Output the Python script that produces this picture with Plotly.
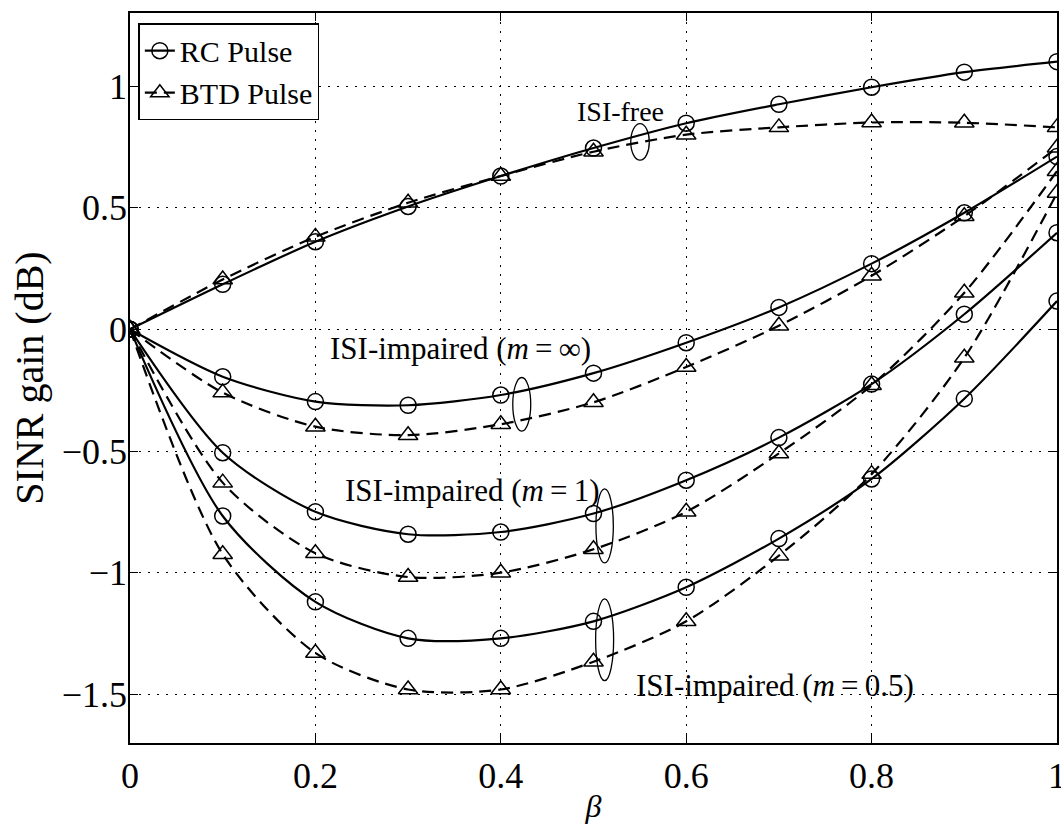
import plotly.graph_objects as go

# roll-off factor
beta = [0.0, 0.1, 0.2, 0.3, 0.4, 0.5, 0.6, 0.7, 0.8, 0.9, 1.0]

# SINR gain (dB), raised-cosine pulse
rc_free = [0.0, 0.185, 0.36, 0.505, 0.63, 0.745, 0.847, 0.925, 0.995, 1.057, 1.10]
rc_inf = [0.0, -0.195, -0.297, -0.312, -0.27, -0.18, -0.055, 0.09, 0.27, 0.479, 0.71]
rc_m1 = [0.0, -0.507, -0.75, -0.842, -0.833, -0.757, -0.62, -0.445, -0.225, 0.062, 0.397]
rc_m05 = [0.0, -0.767, -1.12, -1.27, -1.27, -1.20, -1.06, -0.86, -0.615, -0.285, 0.116]

# SINR gain (dB), BTD pulse
btd_free = [0.0, 0.205, 0.38, 0.52, 0.63, 0.73, 0.80, 0.83, 0.85, 0.849, 0.83]
btd_inf = [0.0, -0.26, -0.40, -0.435, -0.39, -0.30, -0.155, 0.015, 0.22, 0.465, 0.746]
btd_m1 = [0.0, -0.63, -0.92, -1.018, -1.0, -0.904, -0.75, -0.51, -0.23, 0.15, 0.65]
btd_m05 = [0.0, -0.924, -1.33, -1.48, -1.48, -1.366, -1.20, -0.93, -0.595, -0.117, 0.56]

x_ticks = [0, 0.2, 0.4, 0.6, 0.8, 1]
x_ticklabels = ["0", "0.2", "0.4", "0.6", "0.8", "1"]
y_ticks = [-1.5, -1, -0.5, 0, 0.5, 1]
y_ticklabels = ["\u22121.5", "\u22121", "\u22120.5", "0", "0.5", "1"]

FONT = "Liberation Serif, Times New Roman, serif"

fig = go.Figure()

rc_sets = [rc_free, rc_inf, rc_m1, rc_m05]
btd_sets = [btd_free, btd_inf, btd_m1, btd_m05]

for i, ys in enumerate(rc_sets):
    fig.add_trace(go.Scatter(
        x=beta, y=ys, mode="lines+markers", name="RC Pulse",
        showlegend=(i == 0), legendgroup="rc",
        line=dict(color="black", width=2.2, shape="spline", smoothing=0.8),
        marker=dict(symbol="circle-open", size=16, color="black", line=dict(width=1.5)),
    ))

for i, ys in enumerate(btd_sets):
    fig.add_trace(go.Scatter(
        x=beta, y=ys, mode="lines+markers", name="BTD Pulse",
        showlegend=(i == 0), legendgroup="btd",
        line=dict(color="black", width=2.2, dash="12px,7px", shape="spline", smoothing=0.8),
        marker=dict(symbol="triangle-up-open", size=17, color="black", line=dict(width=1.5)),
    ))

# ellipses grouping each RC/BTD pair
ellipses = [
    (0.5502, 0.770, 0.010, 0.075),
    (0.4226, -0.308, 0.0097, 0.11),
    (0.512, -0.808, 0.0094, 0.152),
    (0.512, -1.276, 0.0097, 0.168),
]
for cx, cy, rx, ry in ellipses:
    fig.add_shape(type="circle", xref="x", yref="y",
                  x0=cx - rx, x1=cx + rx, y0=cy - ry, y1=cy + ry,
                  line=dict(color="black", width=1.3))

labels = [
    (0.529, 0.895, "ISI-free", 28),
    (0.356, -0.077, "ISI-impaired (<i>m</i>\u2009=\u2009\u221e)", 31),
    (0.370, -0.663, "ISI-impaired (<i>m</i>\u2009=\u20091)", 31),
    (0.696, -1.465, "ISI-impaired (<i>m</i>\u2009=\u20090.5)", 31),
]
for lx, ly, txt, fs in labels:
    fig.add_annotation(x=lx, y=ly, xref="x", yref="y", text=txt, showarrow=False,
                       font=dict(family=FONT, size=fs, color="black"),
                       xanchor="center", yanchor="middle")

axis_common = dict(
    showline=True, linecolor="black", linewidth=1.5, mirror="ticks",
    ticks="inside", ticklen=8, tickcolor="black", tickwidth=1,
    showgrid=True, gridcolor="black", gridwidth=1.2, griddash="2px,7px",
    zeroline=False, ticklabeloverflow="allow", automargin=False,
)

fig.update_xaxes(
    range=[0, 1], tickvals=x_ticks, ticktext=x_ticklabels,
    tickfont=dict(family=FONT, size=36, color="black"),
    title=dict(text="<i>\u03b2</i>", font=dict(family=FONT, size=32, color="black"), standoff=2),
    **axis_common,
)
fig.update_yaxes(
    range=[-1.7, 1.3], tickvals=y_ticks, ticktext=y_ticklabels,
    tickfont=dict(family=FONT, size=36, color="black"),
    ticklabelstandoff=-6,
    title=dict(text="SINR gain (dB)", font=dict(family=FONT, size=40, color="black"), standoff=6),
    **axis_common,
)

fig.update_layout(
    width=1061, height=824,
    margin=dict(l=130, r=4, t=13, b=81),
    paper_bgcolor="white", plot_bgcolor="white",
    font=dict(family=FONT, color="black"),
    legend=dict(
        x=0.009, y=0.986, xanchor="left", yanchor="top",
        bgcolor="white", bordercolor="black", borderwidth=1.5,
        font=dict(family=FONT, size=30, color="black"),
        tracegroupgap=0,
    ),
)

fig.write_html("out.html")
